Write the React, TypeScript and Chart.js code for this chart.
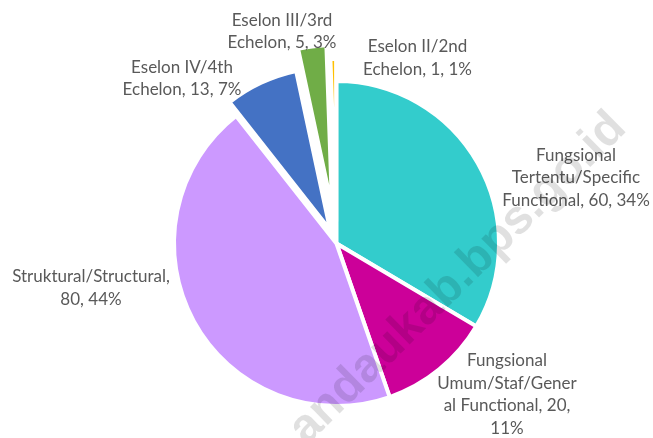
import React, { useEffect, useRef } from "react";
import { Chart, registerables } from "chart.js";

Chart.register(...registerables);

// ---- data ----
const categories = [
  "Fungsional Tertentu/Specific Functional",
  "Fungsional Umum/Staf/General Functional",
  "Struktural/Structural",
  "Eselon IV/4th Echelon",
  "Eselon III/3rd Echelon",
  "Eselon II/2nd Echelon",
];
const values = [60, 20, 80, 13, 5, 1];
const percents = ["34%", "11%", "44%", "7%", "3%", "1%"];
const colors = ["#33CCCC", "#CC0099", "#CC99FF", "#4472C4", "#70AD47", "#FFC000"];

// wrapped label lines (as shown by the original chart)
const labelLines = [
  ["Fungsional", "Tertentu/Specific", "Functional, 60, 34%"],
  ["Fungsional", "Umum/Staf/Gener", "al Functional, 20,", "11%"],
  ["Struktural/Structural,", "80, 44%"],
  ["Eselon IV/4th", "Echelon, 13, 7%"],
  ["Eselon III/3rd", "Echelon, 5, 3%"],
  ["Eselon II/2nd", "Echelon, 1, 1%"],
];

// ---- layout / style ----
const EXPLODE = [0, 0, 0, 15, 36, 22];
const LABEL_OFFSET: [number, number][] = [
  [239.5, -65.5],
  [170.5, 151],
  [-245.5, 44.5],
  [-154.5, -165],
  [-54.5, -212],
  [81, -185.5],
];
const FONT = "17px Lato";
const LINE_H = 22.6;
const TEXT_COLOR = "#595959";

const explodePlugin = {
  id: "explodeSlices",
  beforeDatasetsDraw(chart: any) {
    const meta = chart.getDatasetMeta(0);
    const ca = chart.chartArea;
    const cx = (ca.left + ca.right) / 2;
    const cy = (ca.top + ca.bottom) / 2;
    meta.data.forEach((arc: any, i: number) => {
      const d = EXPLODE[i] || 0;
      const mid = (arc.startAngle + arc.endAngle) / 2;
      arc.x = cx + Math.cos(mid) * d;
      arc.y = cy + Math.sin(mid) * d;
    });
  },
};

const labelPlugin = {
  id: "sliceLabels",
  afterDatasetsDraw(chart: any) {
    const ctx = chart.ctx;
    const ca = chart.chartArea;
    const cx = (ca.left + ca.right) / 2;
    const cy = (ca.top + ca.bottom) / 2;
    ctx.save();
    ctx.font = FONT;
    ctx.fillStyle = TEXT_COLOR;
    ctx.textAlign = "center";
    ctx.textBaseline = "middle";
    labelLines.forEach((lines, i) => {
      const [dx, dy] = LABEL_OFFSET[i];
      const n = lines.length;
      lines.forEach((line, j) => {
        ctx.fillText(line, cx + dx, cy + dy + (j - (n - 1) / 2) * LINE_H);
      });
    });
    ctx.restore();
  },
};

const watermarkPlugin = {
  id: "watermark",
  afterDraw(chart: any) {
    const ctx = chart.ctx;
    ctx.save();
    ctx.translate(628, 130);
    ctx.rotate((-44.5 * Math.PI) / 180);
    ctx.font = "bold 48px 'Liberation Sans'";
    ctx.fillStyle = "rgba(0,0,0,0.12)";
    ctx.textAlign = "right";
    ctx.textBaseline = "alphabetic";
    ctx.fillText("andaukab.bps.go.id", 0, 0);
    ctx.restore();
  },
};

export default function App() {
  const ref = useRef<HTMLCanvasElement | null>(null);

  useEffect(() => {
    if (!ref.current) return;
    const chart = new Chart(ref.current, {
      type: "pie",
      data: {
        labels: categories,
        datasets: [
          {
            data: values,
            backgroundColor: colors,
            borderColor: "#ffffff",
            borderWidth: 4,
          },
        ],
      },
      options: {
        responsive: false,
        animation: false,
        events: [],
        devicePixelRatio: 1,
        radius: 162.5,
        layout: { padding: { left: 20, right: 0, top: 49, bottom: 0 } },
        plugins: {
          legend: { display: false },
          tooltip: { enabled: false },
          title: { display: false },
        },
      } as any,
      plugins: [explodePlugin, labelPlugin, watermarkPlugin],
    });
    return () => chart.destroy();
  }, []);

  return (
    <div
      style={{
        position: "fixed",
        left: 0,
        top: 0,
        width: 653,
        height: 438,
        background: "#ffffff",
      }}
    >
      <canvas ref={ref} width={653} height={438} />
    </div>
  );
}
